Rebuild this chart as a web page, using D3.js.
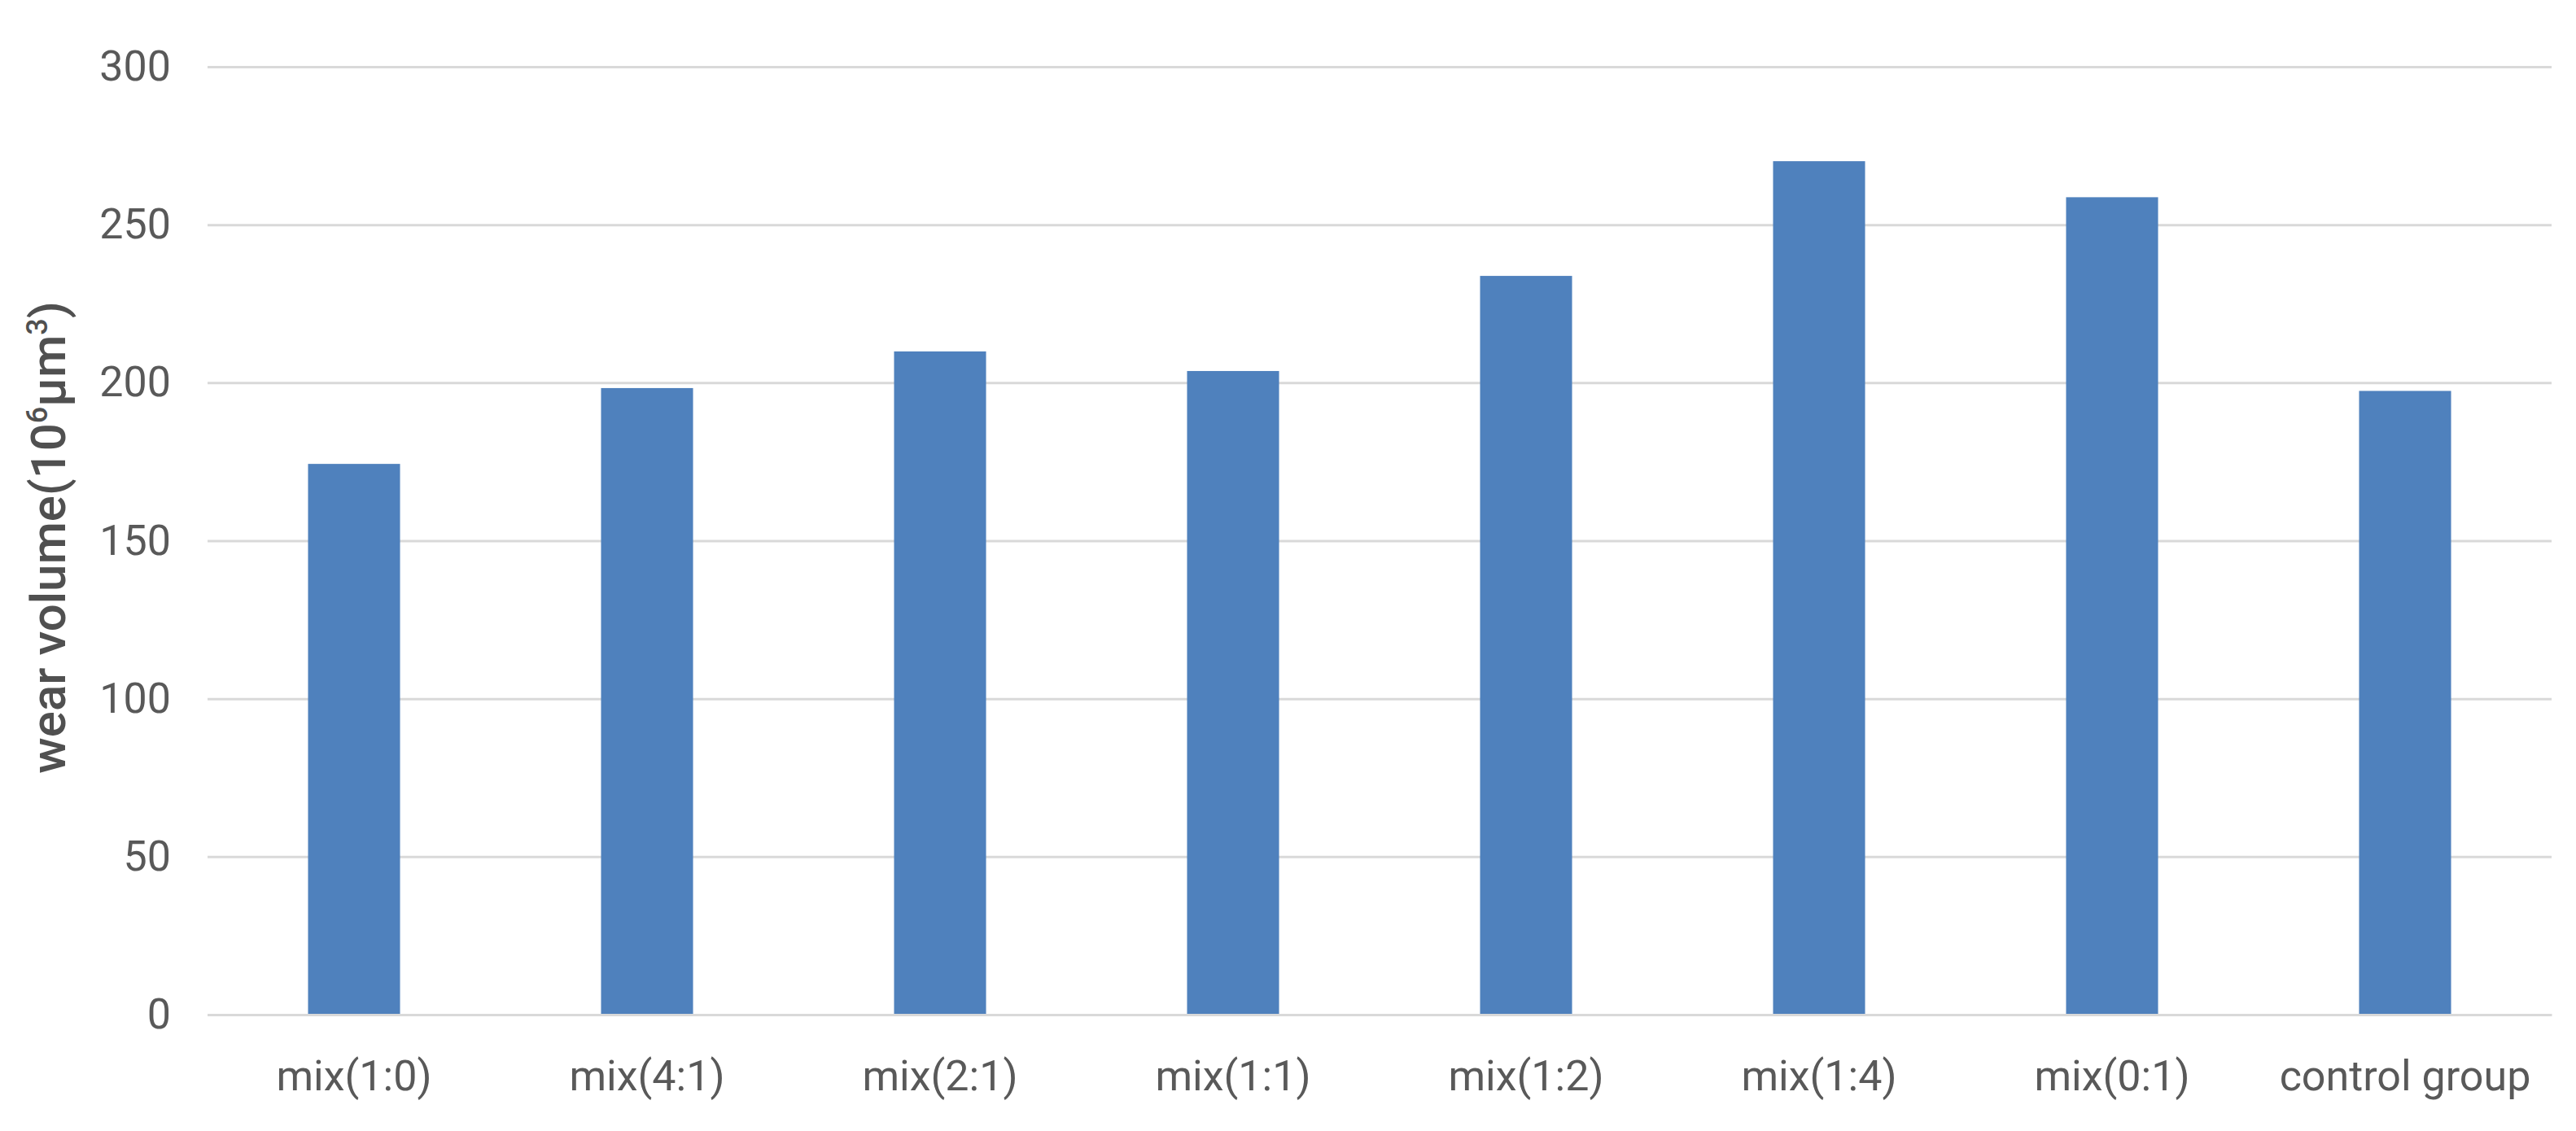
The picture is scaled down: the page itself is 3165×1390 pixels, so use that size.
<!DOCTYPE html>
<html>
<head>
<meta charset="utf-8">
<script src="https://cdn.jsdelivr.net/npm/d3@7"></script>
<style>
  html, body { margin: 0; padding: 0; background: #ffffff; }
  svg { display: block; }
</style>
</head>
<body>
<svg id="chart" width="3165" height="1390"></svg>
<script>
const categories = ["mix(1:0)", "mix(4:1)", "mix(2:1)", "mix(1:1)", "mix(1:2)", "mix(1:4)", "mix(0:1)", "control group"];
const wearVolume = [174.3, 198.3, 209.9, 203.7, 233.8, 270.1, 258.7, 197.4];
const yTicks = [0, 50, 100, 150, 200, 250, 300];

const W = 3165, H = 1390;
const margin = { left: 255, right: 30, top: 82, bottom: 143 };
const font = "Roboto, 'Open Sans', sans-serif";
const textColor = "#595959";

const svg = d3.select("#chart");
svg.append("rect").attr("width", W).attr("height", H).attr("fill", "#ffffff");

const x = d3.scaleBand()
  .domain(categories)
  .range([margin.left, W - margin.right])
  .paddingInner(0.686)
  .paddingOuter(0.343);

const y = d3.scaleLinear()
  .domain([0, 300])
  .range([H - margin.bottom, margin.top]);

// gridlines
const grid = d3.axisLeft(y)
  .tickValues(yTicks)
  .tickSize(-(W - margin.left - margin.right))
  .tickFormat("");
svg.append("g")
  .attr("transform", `translate(${margin.left},0)`)
  .call(grid)
  .call(g => g.select(".domain").remove())
  .call(g => g.selectAll("line").attr("stroke", "#d9d9d9").attr("stroke-width", 3));

// y tick labels
const yAxis = d3.axisLeft(y).tickValues(yTicks).tickSize(0).tickPadding(45);
svg.append("g")
  .attr("transform", `translate(${margin.left},0)`)
  .call(yAxis)
  .call(g => g.select(".domain").remove())
  .call(g => g.selectAll("text")
    .attr("font-family", font)
    .attr("font-size", 52)
    .attr("fill", textColor));

// bars
svg.append("g")
  .selectAll("rect")
  .data(categories.map((c, i) => ({ c, v: wearVolume[i] })))
  .join("rect")
  .attr("x", d => x(d.c))
  .attr("width", x.bandwidth())
  .attr("y", d => y(d.v))
  .attr("height", d => y(0) - y(d.v))
  .attr("fill", "#4f81bd");

// x axis
const xAxis = d3.axisBottom(x).tickSize(0).tickPadding(56);
svg.append("g")
  .attr("transform", `translate(0,${y(0)})`)
  .call(xAxis)
  .call(g => g.select(".domain").attr("stroke", "#d9d9d9").attr("stroke-width", 3))
  .call(g => g.selectAll("text")
    .attr("font-family", font)
    .attr("font-size", 52)
    .attr("fill", textColor));

// y axis title
const title = svg.append("text")
  .attr("transform", `translate(80,${(y(0) + y(300)) / 2 - 4}) rotate(-90)`)
  .attr("text-anchor", "middle")
  .attr("font-family", font)
  .attr("font-size", 60)
  .attr("font-weight", 500)
  .attr("fill", "#505050");
title.append("tspan").text("wear volume(10");
title.append("tspan").attr("font-size", 36).attr("dy", -22).text("6");
title.append("tspan").attr("dy", 22).text("μm");
title.append("tspan").attr("font-size", 36).attr("dy", -22).text("3");
title.append("tspan").attr("dy", 22).text(")");
</script>
</body>
</html>
